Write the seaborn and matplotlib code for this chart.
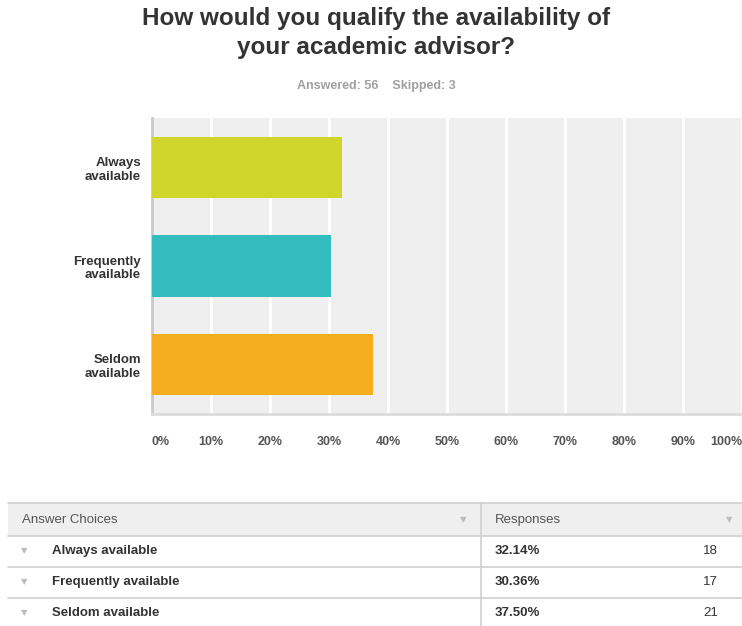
import matplotlib
matplotlib.use("Agg")
import matplotlib.pyplot as plt
import seaborn as sns
import pandas as pd
from matplotlib.patches import Rectangle
from matplotlib.lines import Line2D

categories = ["Always\navailable", "Frequently\navailable", "Seldom\navailable"]
table_labels = ["Always available", "Frequently available", "Seldom available"]
percent = [32.14, 30.36, 37.50]
counts = [18, 17, 21]
colors = ["#cfd52a", "#33bdbe", "#f6ae21"]
xticks = [0, 10, 20, 30, 40, 50, 60, 70, 80, 90, 100]
xtick_labels = ["0%", "10%", "20%", "30%", "40%", "50%", "60%", "70%", "80%", "90%", "100%"]
title = "How would you qualify the availability of\nyour academic advisor?"
subtitle = "Answered: 56    Skipped: 3"

sns.set_theme(style="white")
plt.rcParams["font.family"] = ["Liberation Sans", "DejaVu Sans"]

W, H = 742, 626
fig = plt.figure(figsize=(W / 100, H / 100), dpi=100)

def fx(px):
    return px / W

def fy(py):
    return 1 - py / H

# bar chart axes
ax = fig.add_axes([fx(152), fy(414), fx(742) - fx(152), fy(118) - fy(414)])
ax.set_facecolor("#efefef")
df = pd.DataFrame({"cat": categories, "pct": percent})
sns.barplot(data=df, y="cat", x="pct", hue="cat", palette=colors, legend=False,
            width=0.62, ax=ax, orient="h", saturation=1, zorder=3, linewidth=0)
ax.set_xlim(0, 100)
ax.set_ylim(2.5, -0.5)
ax.set_xticks(xticks)
ax.set_xticklabels(xtick_labels)
for i, lab in enumerate(ax.get_xticklabels()):
    if i == 0:
        lab.set_ha("left")
    elif i == len(xticks) - 1:
        lab.set_ha("right")
ax.tick_params(axis="x", length=0, pad=16, labelsize=9, labelcolor="#555555")
ax.tick_params(axis="y", length=0, pad=8, labelsize=9.5, labelcolor="#333333")
for lab in ax.get_xticklabels() + ax.get_yticklabels():
    lab.set_fontweight("bold")
for lab in ax.get_yticklabels():
    lab.set_ha("right")
    lab.set_multialignment("right")
ax.set_xlabel("")
ax.set_ylabel("")
ax.grid(axis="x", color="white", linewidth=2, zorder=0)
ax.set_axisbelow(True)
for s in ["top", "right"]:
    ax.spines[s].set_visible(False)
ax.spines["left"].set_color("#c9c9c9")
ax.spines["left"].set_linewidth(2)
ax.spines["bottom"].set_color("#dcdcdc")
ax.spines["bottom"].set_linewidth(2)

# title
fig.text(fx(376), fy(33), title, ha="center", va="center", fontsize=17.5,
         fontweight="bold", color="#333333", linespacing=1.3)
fig.text(fx(376), fy(86), subtitle, ha="center", va="center", fontsize=9,
         fontweight="bold", color="#a0a0a0")

# table
fig.patches.append(Rectangle((fx(8), fy(536)), fx(742) - fx(8), fy(503) - fy(536),
                             transform=fig.transFigure, facecolor="#efefef",
                             edgecolor="none", zorder=0))
for y in [503, 536, 567, 598]:
    fig.lines.append(Line2D([fx(8), fx(742)], [fy(y), fy(y)], transform=fig.transFigure,
                            color="#d0d0d0", linewidth=1.2))
fig.lines.append(Line2D([fx(481), fx(481)], [fy(503), fy(626)], transform=fig.transFigure,
                        color="#d0d0d0", linewidth=1.2))

fig.text(fx(22), fy(520), "Answer Choices", ha="left", va="center", fontsize=9.5, color="#555555")
fig.text(fx(495), fy(520), "Responses", ha="left", va="center", fontsize=9.5, color="#555555")
fig.text(fx(463), fy(520), "\u25bc", ha="center", va="center", fontsize=6, color="#bbbbbb",
         family=["DejaVu Sans"])
fig.text(fx(729), fy(520), "\u25bc", ha="center", va="center", fontsize=6, color="#bbbbbb",
         family=["DejaVu Sans"])

row_y = [551, 582, 613]
for lab, p, c, y in zip(table_labels, percent, counts, row_y):
    fig.text(fx(24), fy(y), "\u25bc", ha="center", va="center", fontsize=6, color="#bbbbbb",
             family=["DejaVu Sans"])
    fig.text(fx(52), fy(y), lab, ha="left", va="center", fontsize=9.5, fontweight="bold",
             color="#333333")
    fig.text(fx(495), fy(y), f"{p:.2f}%", ha="left", va="center", fontsize=9.5,
             fontweight="bold", color="#333333")
    fig.text(fx(718), fy(y), str(c), ha="right", va="center", fontsize=9.5, color="#333333")

fig.savefig("out.png", dpi=100)
